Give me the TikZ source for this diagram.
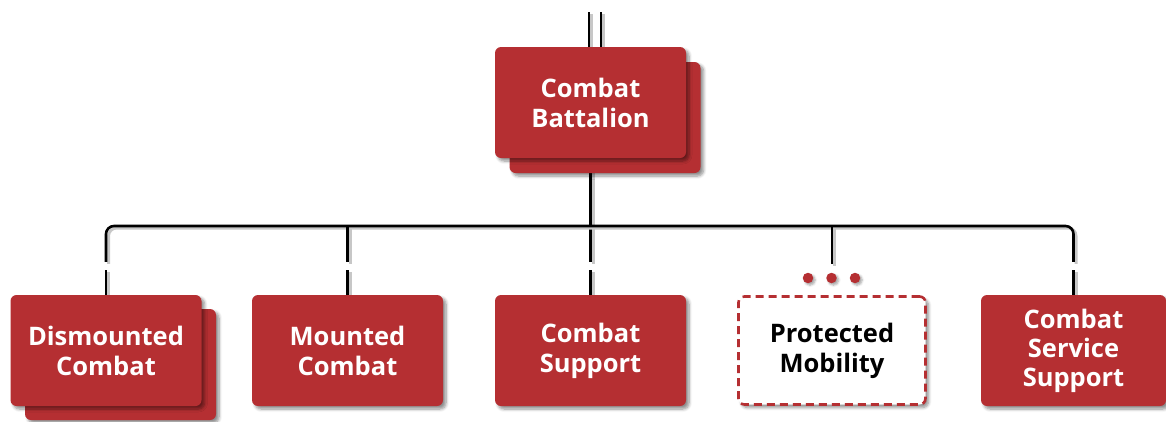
\documentclass[tikz,border=0pt]{standalone}
\usepackage{fontspec}
\setmainfont{Open Sans}
\usetikzlibrary{shadows.blur,backgrounds}
\definecolor{unitred}{RGB}{181,47,50}
\begin{document}
\begin{tikzpicture}[x=1pt,y=-1pt,
  softshadow/.style={blur shadow={shadow xshift=3pt, shadow yshift=-3pt,
      shadow blur steps=6, shadow blur radius=3pt, shadow opacity=45}},
  unit/.style={rounded corners=6pt, fill=unitred, minimum width=191pt,
      minimum height=111pt, inner sep=0pt, text=white, align=center,
      font=\fontsize{25.5}{30}\selectfont\bfseries, softshadow},
  openunit/.style={unit, fill=white, draw=unitred, line width=2.6pt,
      dash pattern=on 8pt off 5pt, text=black, minimum width=187pt,
      minimum height=108pt},
  wire/.style={line width=2.6pt, black,
      preaction={draw=black!22, line width=3pt,
        transform canvas={xshift=2.5pt, yshift=-2pt}}},
  dot/.style={circle, fill=unitred, minimum size=10.5pt, inner sep=0pt,
      blur shadow={shadow xshift=2pt, shadow yshift=-2pt, shadow opacity=35}}
]
\useasboundingbox (0,0) rectangle (1166,421);

% battalion, shown as a stacked pair
\node[unit] (cbBack) at (605,117.5) {};
\node[unit] (cb) at (590.5,102.5) {Combat\\Battalion};

% subordinate units
\node[unit] (disBack) at (120.5,364.5) {};
\node[unit] (dis) at (106,350.5) {Dismounted\\Combat};
\node[unit] (mnt) at (347.5,350.5) {Mounted\\Combat};
\node[unit] (sup) at (590.5,350.5) {Combat\\Support};
\node[openunit] (pm) at (832,350.5) {Protected\\Mobility};
\node[unit, minimum width=185pt,
      font=\fontsize{25.5}{29}\selectfont\bfseries] (css) at (1073.5,350.5)
      {Combat\\Service\\Support};

% pending-link marker above the open unit
\node[dot] (d1) at (808,278) {};
\node[dot] (d2) at (831.5,278) {};
\node[dot] (d3) at (855,278) {};

\coordinate (bus) at (590,226);
\coordinate (in1) at (589,12);
\coordinate (in2) at (601,12);

\begin{scope}[on background layer]
  % incoming double link
  \draw[wire] (in1) -- (in1 |- cb.center);
  \draw[wire] (in2) -- (in2 |- cb.center);
  % trunk down through the bus
  \draw[wire] (cb.center) -- ([yshift=33pt]sup.north);
  \draw[wire] (sup.north) -- ++(0,-25);
  % bus with its outer drops
  \draw[wire, rounded corners=8pt]
    ([yshift=33pt]dis.north) |- (bus) -| ([yshift=33pt]css.north);
  \draw[wire] (dis.north) -- ++(0,-25);
  \draw[wire] (css.north) -- ++(0,-25);
  % inner drops
  \draw[wire] (bus -| mnt.north) -- ([yshift=33pt]mnt.north);
  \draw[wire] (mnt.north) -- ++(0,-25);
  \draw[wire] (bus -| pm.north) -- ([yshift=31pt]pm.north);
\end{scope}
\end{tikzpicture}
\end{document}
